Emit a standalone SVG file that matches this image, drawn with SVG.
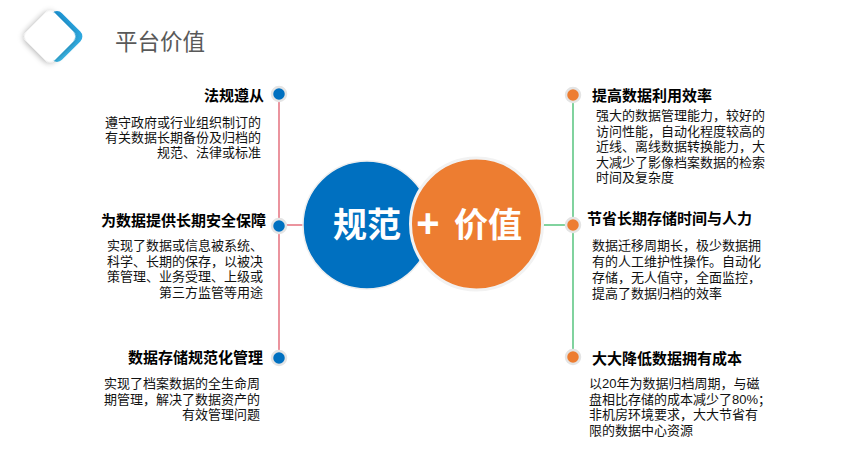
<svg xmlns="http://www.w3.org/2000/svg" width="841" height="459" viewBox="0 0 841 459">
<style>
.t{font-family:"Liberation Sans","Noto Sans CJK SC",sans-serif;font-size:15px;font-weight:bold;fill:#000}
.b{font-family:"Liberation Sans","Noto Sans CJK SC",sans-serif;font-size:13px;fill:#111}
.e{text-anchor:end}
.big{font-family:"Liberation Sans","Noto Sans CJK SC",sans-serif;font-size:34px;font-weight:bold;fill:#fff;text-anchor:middle}
.dl{fill:#0070C0;stroke:#e4e4e4;stroke-width:2.5}
.dr{fill:#ED7D31;stroke:#e4e4e4;stroke-width:2.5}
</style>
<defs>
<filter id="sh" x="-50%" y="-50%" width="200%" height="200%">
<feGaussianBlur in="SourceAlpha" stdDeviation="3"/>
<feOffset dx="0" dy="1" result="o"/>
<feComponentTransfer><feFuncA type="linear" slope="0.35"/></feComponentTransfer>
<feMerge><feMergeNode/><feMergeNode in="SourceGraphic"/></feMerge>
</filter>
<linearGradient id="bg" x1="0" y1="0" x2="1" y2="1">
<stop offset="0" stop-color="#1C96D8"/>
<stop offset="1" stop-color="#3DB9E6"/>
</linearGradient>
</defs>
<rect width="841" height="459" fill="#fff"/>
<g id="header">
<rect x="-20" y="-20" width="40" height="40" rx="7" fill="url(#bg)" transform="translate(57,36.5) rotate(45)"/>
<rect x="-20" y="-20" width="40" height="40" rx="7" fill="#fff" filter="url(#sh)" transform="translate(50,36.5) rotate(45)"/>
<text x="115" y="50" style="font-family:'Liberation Sans','Noto Sans CJK SC',sans-serif;font-size:22.5px;fill:#595959">平台价值</text>
</g>
<g id="connectors">
<line x1="279" y1="94" x2="279" y2="358" stroke="#E05A6A" stroke-width="1.3"/>
<line x1="279" y1="225" x2="305" y2="225" stroke="#E05A6A" stroke-width="1.3"/>
<line x1="573" y1="95" x2="573" y2="357" stroke="#3DBB6A" stroke-width="1.3"/>
<line x1="541" y1="225" x2="573" y2="225" stroke="#3DBB6A" stroke-width="1.3"/>
</g>
<g id="center">
<circle cx="367" cy="225" r="64" fill="#0070C0" stroke="#eeeeee" stroke-width="1.5"/>
<circle cx="476.5" cy="224" r="66" fill="#ED7D31" stroke="#f2f2f2" stroke-width="3"/>
<text class="big" x="367" y="237">规范</text>
<text class="big" y="237"><tspan x="428" style="font-size:40px">+</tspan><tspan x="488">价值</tspan></text>
</g>
<g id="node-l1">
<circle class="dl" cx="279" cy="94" r="7"/>
<text class="t e" x="264" y="101">法规遵从</text>
<text class="b e"><tspan x="261" y="127">遵守政府或行业组织制订的</tspan><tspan x="261" y="142">有关数据长期备份及归档的</tspan><tspan x="261" y="157">规范、法律或标准</tspan></text>
</g>
<g id="node-l2">
<circle class="dl" cx="279" cy="226" r="7"/>
<text class="t e" x="266" y="226">为数据提供长期安全保障</text>
<text class="b e"><tspan x="263" y="250">实现了数据或信息被系统、</tspan><tspan x="263" y="265.5">科学、长期的保存，以被决</tspan><tspan x="263" y="281">策管理、业务受理、上级或</tspan><tspan x="263" y="296.5">第三方监管等用途</tspan></text>
</g>
<g id="node-l3">
<circle class="dl" cx="279" cy="358" r="7"/>
<text class="t e" x="263" y="363">数据存储规范化管理</text>
<text class="b e"><tspan x="260" y="388">实现了档案数据的全生命周</tspan><tspan x="260" y="403.5">期管理，解决了数据资产的</tspan><tspan x="260" y="419">有效管理问题</tspan></text>
</g>
<g id="node-r1">
<circle class="dr" cx="573" cy="95" r="7"/>
<text class="t" x="592" y="101">提高数据利用效率</text>
<text class="b"><tspan x="596" y="120">强大的数据管理能力，较好的</tspan><tspan x="596" y="135.5">访问性能，自动化程度较高的</tspan><tspan x="596" y="151">近线、离线数据转换能力，大</tspan><tspan x="596" y="166.5">大减少了影像档案数据的检索</tspan><tspan x="596" y="182">时间及复杂度</tspan></text>
</g>
<g id="node-r2">
<circle class="dr" cx="573" cy="225" r="7"/>
<text class="t" x="587" y="223.5">节省长期存储时间与人力</text>
<text class="b"><tspan x="592" y="250">数据迁移周期长，极少数据拥</tspan><tspan x="592" y="266">有的人工维护性操作。自动化</tspan><tspan x="592" y="282">存储，无人值守，全面监控，</tspan><tspan x="592" y="298">提高了数据归档的效率</tspan></text>
</g>
<g id="node-r3">
<circle class="dr" cx="573" cy="357" r="7"/>
<text class="t" x="592" y="363.5">大大降低数据拥有成本</text>
<text class="b"><tspan x="589" y="388">以20年为数据归档周期，与磁</tspan><tspan x="589" y="403.5">盘相比存储的成本减少了80%；</tspan><tspan x="589" y="419">非机房环境要求，大大节省有</tspan><tspan x="589" y="434.5">限的数据中心资源</tspan></text>
</g>
</svg>
